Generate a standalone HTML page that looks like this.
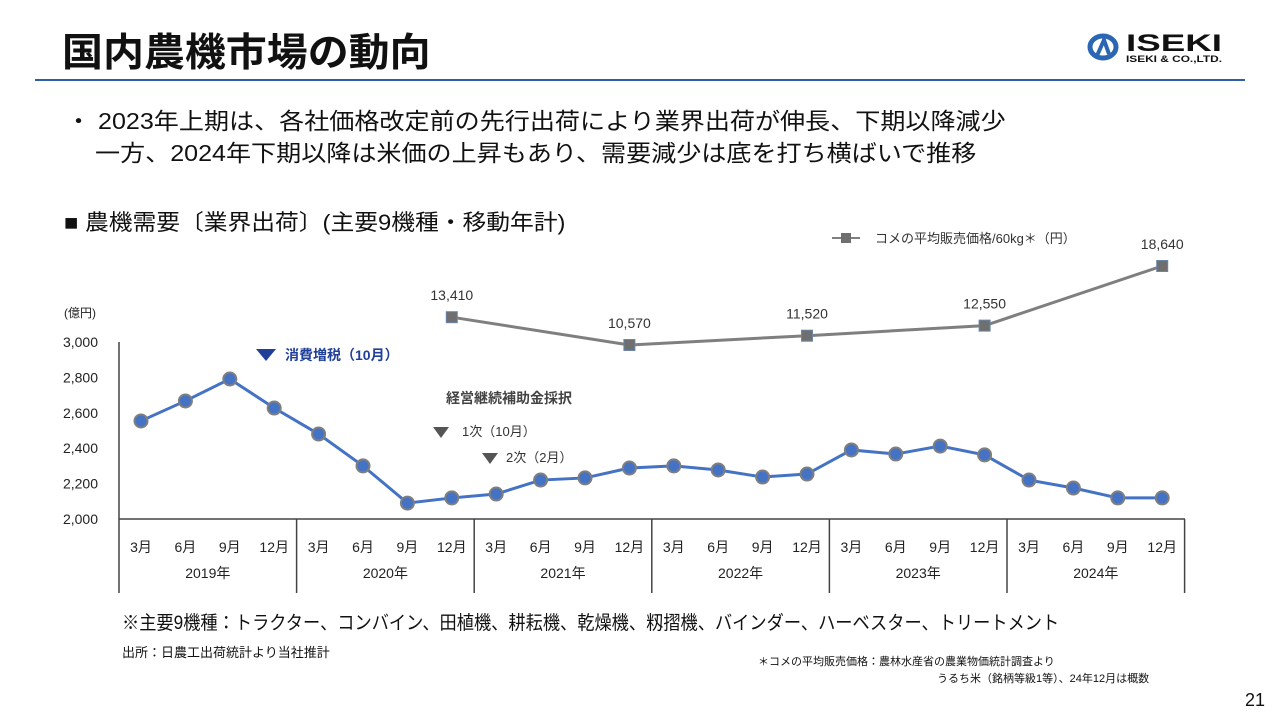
<!DOCTYPE html>
<html><head><meta charset="utf-8">
<style>
body{margin:0;width:1280px;height:720px;background:#fff;overflow:hidden;font-family:"Liberation Sans","Noto Sans CJK JP",sans-serif;color:#111;position:relative}
.a{position:absolute;white-space:nowrap;transform-origin:0 0}
</style></head><body>
<div class="a" style="left:62px;top:22px;font-size:39px;font-weight:bold;transform:scaleX(1.05)">国内農機市場の動向</div>
<div class="a" style="left:35px;top:79px;width:1210px;height:2px;background:#2d5ea8"></div>
<div class="a" style="left:1086px;top:29px;width:140px;height:36px">
<svg width="140" height="36"><ellipse cx="17" cy="18" rx="13" ry="11" fill="none" stroke="#2b66b5" stroke-width="5"/><path d="M10 29 L18 11 L23 25" stroke="#2b66b5" stroke-width="4" fill="none"/>
<text x="40" y="22" font-size="24" font-weight="bold" font-family="Liberation Sans" fill="#111" textLength="96" lengthAdjust="spacingAndGlyphs">ISEKI</text>
<text x="40" y="33" font-size="9" font-weight="bold" font-family="Liberation Sans" fill="#111" textLength="96" lengthAdjust="spacingAndGlyphs">ISEKI &amp; CO.,LTD.</text></svg></div>
<div class="a" style="left:66px;top:102px;font-size:23px;transform:scaleX(1.09)">・ 2023年上期は、各社価格改定前の先行出荷により業界出荷が伸長、下期以降減少</div>
<div class="a" style="left:95px;top:134px;font-size:23px;transform:scaleX(1.09)">一方、2024年下期以降は米価の上昇もあり、需要減少は底を打ち横ばいで推移</div>
<div class="a" style="left:64px;top:205px;font-size:22px;transform:scaleX(1.08)">■ 農機需要〔業界出荷〕(主要9機種・移動年計)</div>
<div class="a" style="left:122px;top:608px;font-size:19px;transform:scaleX(0.906)">※主要9機種：トラクター、コンバイン、田植機、耕耘機、乾燥機、籾摺機、バインダー、ハーベスター、トリートメント</div>
<div class="a" style="left:122px;top:642px;font-size:13px">出所：日農工出荷統計より当社推計</div>
<div class="a" style="left:758px;top:653px;font-size:11px">＊コメの平均販売価格：農林水産省の農業物価統計調査より</div>
<div class="a" style="left:937px;top:670px;font-size:11px">うるち米（銘柄等級1等）、24年12月は概数</div>
<div class="a" style="left:1245px;top:690px;font-size:18px">21</div>

<svg id="chart" class="a" style="left:0;top:0" width="1280" height="720" font-family="Liberation Sans, Noto Sans CJK JP, sans-serif"></svg>
<script>
const months=["3月","6月","9月","12月"];
const years=["2019年","2020年","2021年","2022年","2023年","2024年"];
const demand=[2554,2667,2791,2627,2480,2300,2090,2119,2141,2220,2232,2288,2300,2277,2237,2254,2390,2367,2412,2362,2220,2175,2119,2119];
const yTicks=[2000,2200,2400,2600,2800,3000];
const riceIdx=[7,11,15,19,23];
const rice=[13410,10570,11520,12550,18640];
const riceLabels=["13,410","10,570","11,520","12,550","18,640"];
const svg=document.getElementById('chart');const NS="http://www.w3.org/2000/svg";
function el(t,a,p){const e=document.createElementNS(NS,t);for(const k in a)e.setAttribute(k,a[k]);(p||svg).appendChild(e);return e;}
const x=i=>141+i*44.4;
const y=v=>519-(v-2000)*0.177;
const ry=v=>345-(v-10570)*0.00979;
let e=el('line',{x1:119,y1:342,x2:119,y2:593,stroke:'#444','stroke-width':1.5});

e=el('line',{x1:119,y1:519,x2:1185,y2:519,stroke:'#444','stroke-width':1.5});

yTicks.forEach(v=>{const t=el('text',{x:98,y:y(v)+5,'text-anchor':'end','font-size':14,fill:'#222'});t.textContent=v.toLocaleString('en-US');
});
e=el('text',{x:64,y:317,'font-size':12,fill:'#222'});e.textContent='(億円)';

years.forEach((yr,k)=>{const bx=119+k*177.6;
const d=el('line',{x1:bx+177.6,y1:519,x2:bx+177.6,y2:593,stroke:'#444','stroke-width':1.5});

months.forEach((m,j)=>{const t=el('text',{x:x(k*4+j),y:552,'text-anchor':'middle','font-size':14,fill:'#222'});t.textContent=m;
});
const t=el('text',{x:bx+88.8,y:578,'text-anchor':'middle','font-size':14,fill:'#222'});t.textContent=yr;
});
e=el('polyline',{points:demand.map((v,i)=>x(i)+','+y(v)).join(' '),fill:'none',stroke:'#4472c4','stroke-width':3});

demand.forEach((v,i)=>{const c=el('circle',{cx:x(i),cy:y(v),r:6.5,fill:'#4472c4',stroke:'#7f7f7f','stroke-width':2});
});
e=el('polyline',{points:rice.map((v,i)=>x(riceIdx[i])+','+ry(v)).join(' '),fill:'none',stroke:'#7f7f7f','stroke-width':3});

rice.forEach((v,i)=>{const r=el('rect',{x:x(riceIdx[i])-5.5,y:ry(v)-5.5,width:11,height:11,fill:'#6f6f6f',stroke:'#6b86a8','stroke-width':1});

const t=el('text',{x:x(riceIdx[i]),y:ry(v)-17,'text-anchor':'middle','font-size':14,fill:'#333'});t.textContent=riceLabels[i];
});
e=el('line',{x1:832,y1:238,x2:860,y2:238,stroke:'#7f7f7f','stroke-width':2});

e=el('rect',{x:841,y:233,width:10,height:10,fill:'#6f6f6f'});

e=el('text',{x:875,y:243,'font-size':13,fill:'#333'});e.textContent='コメの平均販売価格/60kg＊（円）';

e=el('polygon',{points:'256,349 276,349 266,361',fill:'#1f3f99'});

e=el('text',{x:285,y:360,'font-size':14,'font-weight':'bold',fill:'#1f3f99'});e.textContent='消費増税（10月）';

e=el('text',{x:446,y:403,'font-size':14,'font-weight':'bold',fill:'#444'});e.textContent='経営継続補助金採択';

e=el('polygon',{points:'433,427 449,427 441,438',fill:'#555'});

e=el('text',{x:462,y:436,'font-size':13,fill:'#333'});e.textContent='1次（10月）';

e=el('polygon',{points:'482,453 498,453 490,464',fill:'#555'});

e=el('text',{x:506,y:462,'font-size':13,fill:'#333'});e.textContent='2次（2月）';

</script>
</body></html>
